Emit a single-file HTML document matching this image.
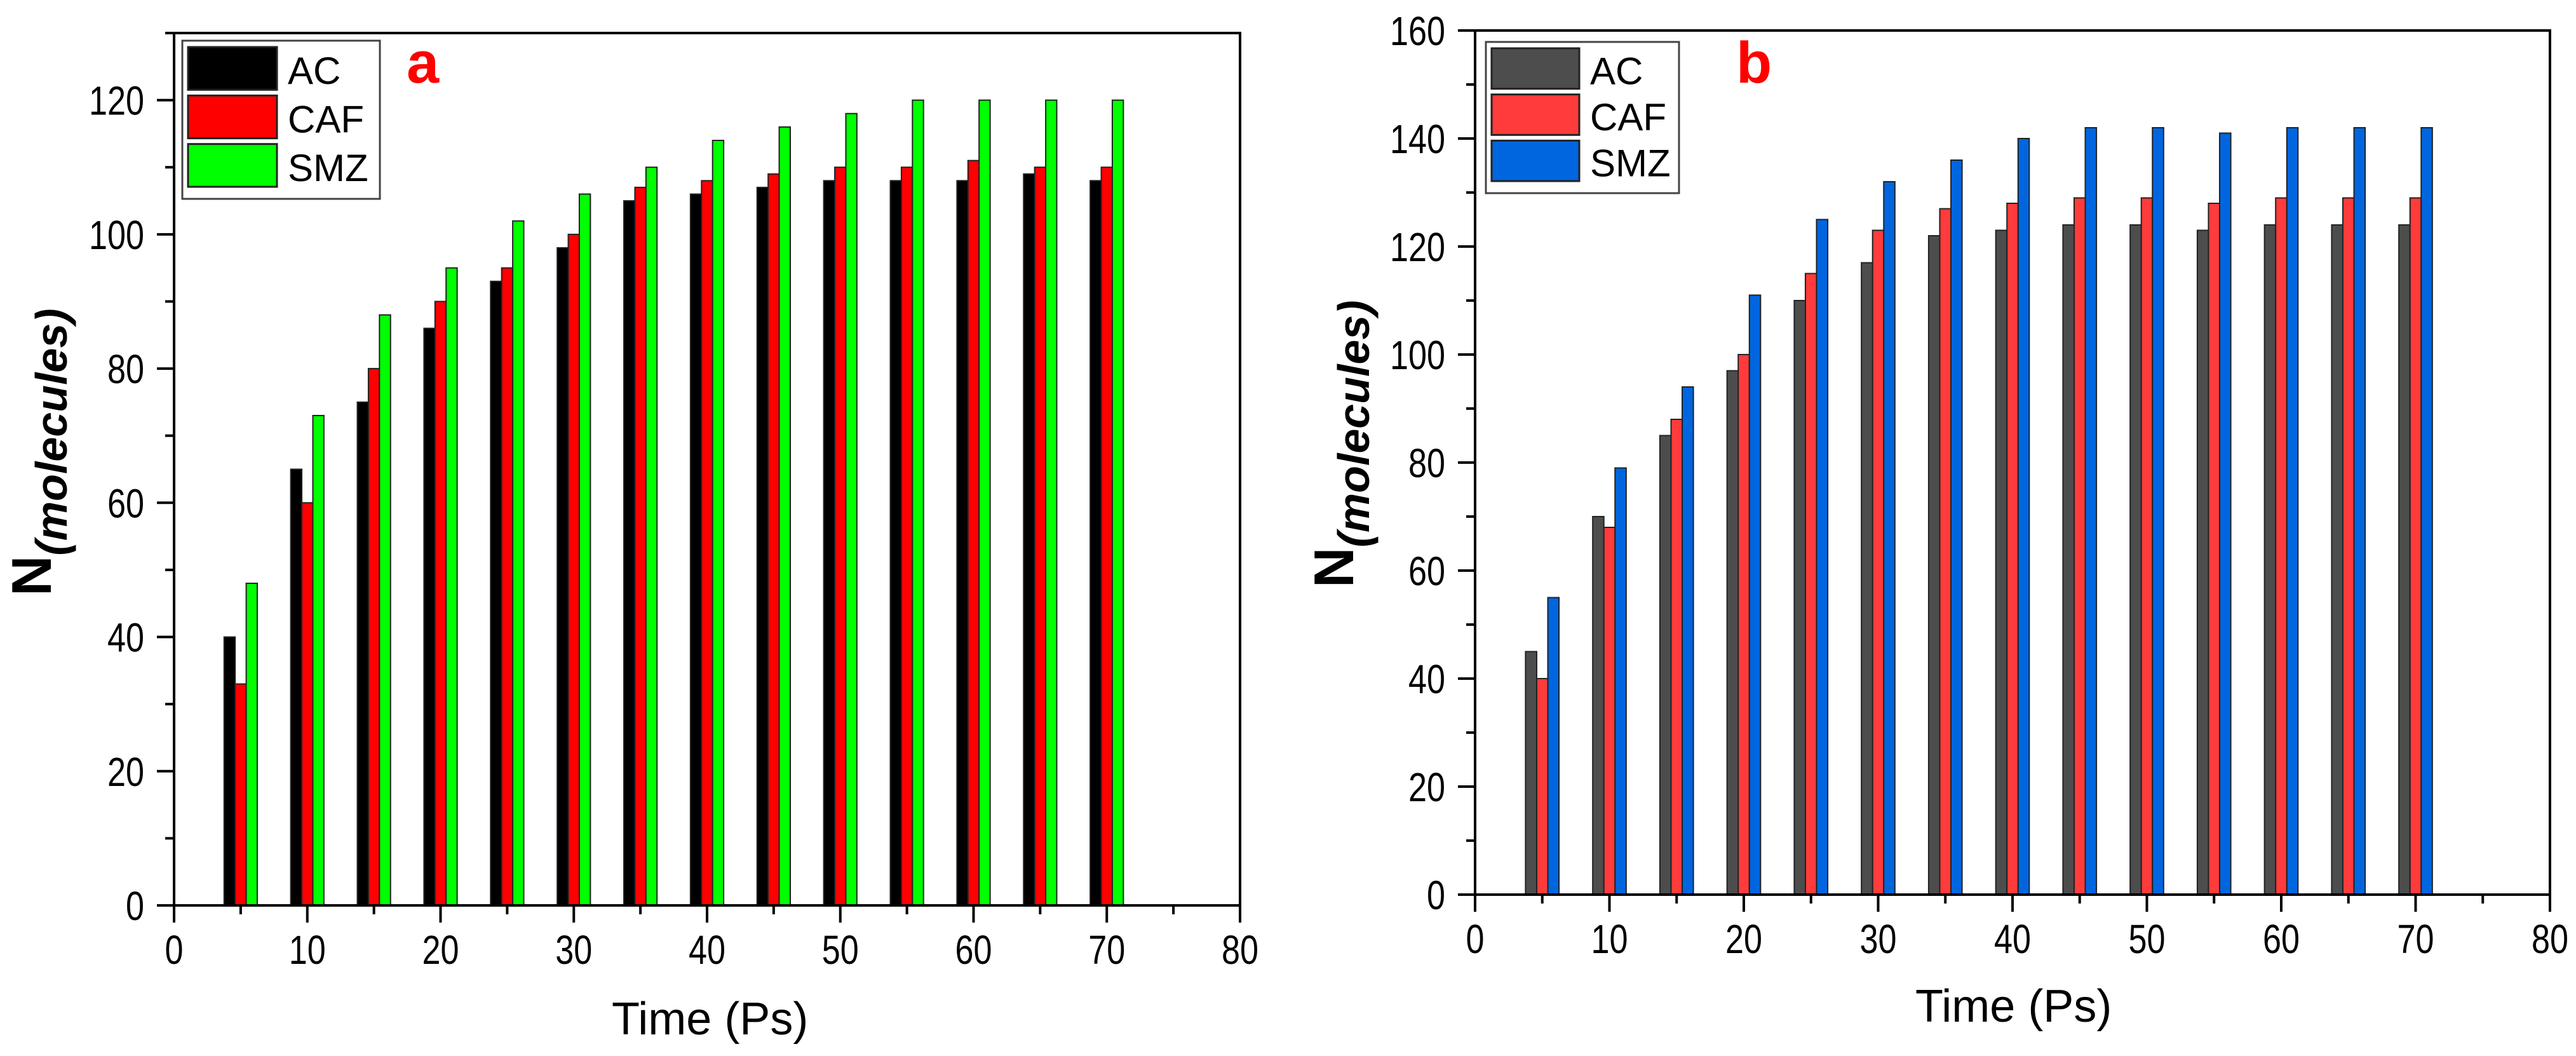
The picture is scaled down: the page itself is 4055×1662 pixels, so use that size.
<!DOCTYPE html>
<html><head><meta charset="utf-8"><style>
html,body{margin:0;padding:0;background:#fff;}
svg{display:block;font-family:"Liberation Sans",Arial,sans-serif;}
</style></head><body>
<svg id="chart" width="4055" height="1662" viewBox="0 0 4055 1662" xmlns="http://www.w3.org/2000/svg"></svg>
<script>
const times = [5,10,15,20,25,30,35,40,45,50,55,60,65,70];
const seriesNames = ["AC","CAF","SMZ"];
const aAC  = [40,65,75,86,93,98,105,106,107,108,108,108,109,108];
const aCAF = [33,60,80,90,95,100,107,108,109,110,110,111,110,110];
const aSMZ = [48,73,88,95,102,106,110,114,116,118,120,120,120,120];
const bAC  = [45,70,85,97,110,117,122,123,124,124,123,124,124,124];
const bCAF = [40,68,88,100,115,123,127,128,129,129,128,129,129,129];
const bSMZ = [55,79,94,111,125,132,136,140,142,142,141,142,142,142];
const xTicks = [0,10,20,30,40,50,60,70,80];
const yTicksA = [0,20,40,60,80,100,120];
const yTicksB = [0,20,40,60,80,100,120,140,160];

const NS="http://www.w3.org/2000/svg";
const svg=document.getElementById('chart');
function mk(tag,attrs,parent){const e=document.createElementNS(NS,tag);for(const k in attrs)e.setAttribute(k,attrs[k]);(parent||svg).appendChild(e);return e;}

function panel(cfg){
  const g=mk('g',{});
  
  
  const X=v=>cfg.x0+(v-0)/(80-0)*(cfg.x1-cfg.x0);
  const Y=v=>cfg.y0-(v/cfg.ymax)*(cfg.y0-cfg.ytop);
  const bw=(X(0.83)-X(0));
  cfg.series.forEach((vals,si)=>{
    vals.forEach((v,i)=>{
      const cx=X(times[i]+(si-1)*0.83);
      const r=mk('rect',{x:cx-bw/2,y:Y(v),width:bw,height:cfg.y0-Y(v),fill:cfg.colors[si],stroke:'#222','stroke-width':2},g);
      
      
    });
  });
  const fr=mk('rect',{x:cfg.x0,y:cfg.ytop,width:cfg.x1-cfg.x0,height:cfg.y0-cfg.ytop,fill:'none',stroke:'#000','stroke-width':4},g);
  
  
  xTicks.forEach(t=>{
    mk('line',{x1:X(t),x2:X(t),y1:cfg.y0,y2:cfg.y0+27,stroke:'#000','stroke-width':4},g);
    if(t<80) mk('line',{x1:X(t+5),x2:X(t+5),y1:cfg.y0,y2:cfg.y0+14,stroke:'#000','stroke-width':4},g);
    const s=String(t);
    const tx=mk('text',{x:X(t),y:cfg.y0+92,'font-size':64,'text-anchor':'middle',fill:'#000',textLength:s.length*29,lengthAdjust:'spacingAndGlyphs'},g);
    tx.textContent=s;
    
    
  });
  const step=cfg.yticks[1]-cfg.yticks[0];
  cfg.yticks.forEach(t=>{
    mk('line',{x1:cfg.x0-27,x2:cfg.x0,y1:Y(t),y2:Y(t),stroke:'#000','stroke-width':4},g);
    if(t+step/2<=cfg.ymax) mk('line',{x1:cfg.x0-14,x2:cfg.x0,y1:Y(t+step/2),y2:Y(t+step/2),stroke:'#000','stroke-width':4},g);
    const s=String(t);
    const ty=mk('text',{x:cfg.x0-47,y:Y(t)+23,'font-size':64,'text-anchor':'end',fill:'#000',textLength:s.length*29,lengthAdjust:'spacingAndGlyphs'},g);
    ty.textContent=s;
    
    
  });
  const xt=mk('text',{x:cfg.xtx,y:cfg.xty,'font-size':72,fill:'#000'},g);
  xt.textContent='Time (Ps)';
  
  
  const yt=mk('text',{transform:`translate(${cfg.ytx},${cfg.yty}) rotate(-90)`,fill:'#000','font-weight':'bold'},g);
  
  
  const t1=mk('tspan',{'font-size':88},yt);t1.textContent='N';
  const t2=mk('tspan',{'font-size':70,'font-style':'italic',dy:25},yt);t2.textContent='(molecules)';
  const lg=mk('g',{},g);
  
  
  mk('rect',{x:cfg.lx,y:cfg.ly,width:cfg.lw,height:cfg.lh,fill:'#fff',stroke:'#444','stroke-width':3},lg);
  const sh=(cfg.lh-20)/3;
  seriesNames.forEach((n,i)=>{
    const e=mk('g',{},lg);
    
    
    mk('rect',{x:cfg.lx+9,y:cfg.ly+10+i*sh,width:cfg.sw,height:sh-9,fill:cfg.colors[i],stroke:'#222','stroke-width':3},e);
    const lt=mk('text',{x:cfg.lx+cfg.sw+26,y:cfg.ly+10+i*sh+sh/2+20,'font-size':60,fill:'#000'},e);
    lt.textContent=n;
  });
  const pl=mk('text',{x:cfg.px,y:cfg.py,'font-size':92,'font-weight':'bold',fill:'#ff0000'},g);
  pl.textContent=cfg.label;
  
  
}

panel({name:'panel-a',x0:274,x1:1952,y0:1425,ytop:52,ymax:130,yticks:yTicksA,
  series:[aAC,aCAF,aSMZ],colors:['#000000','#ff0000','#00ff00'],
  xtx:963,xty:1628,ytx:80,yty:938,lx:287,ly:64,lw:311,lh:249,sw:140,px:640,py:130,label:'a'});
panel({name:'panel-b',x0:2322,x1:4014,y0:1408,ytop:48,ymax:160,yticks:yTicksB,
  series:[bAC,bCAF,bSMZ],colors:['#4d4d4d','#ff3b3b','#0066e0'],
  xtx:3015,xty:1608,ytx:2130,yty:925,lx:2339,ly:66,lw:304,lh:238,sw:138,px:2733,py:130,label:'b'});
</script>
</body></html>
